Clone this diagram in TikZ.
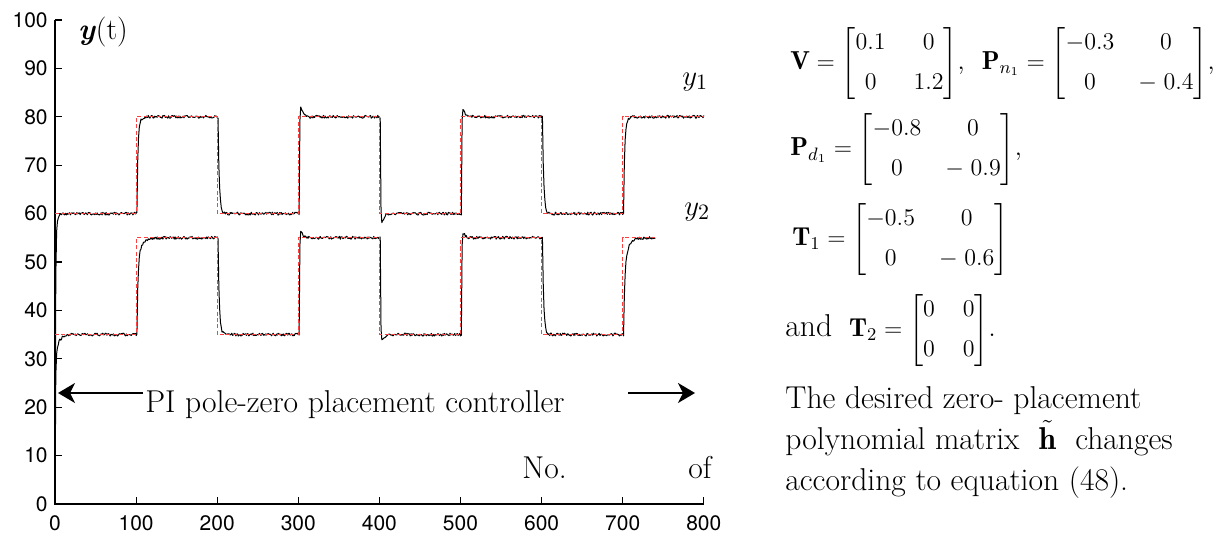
\documentclass[tikz,border=0pt]{standalone}
\usepackage{amsmath}
\usepackage{fontspec}
\newfontfamily\axisfont{TeX Gyre Heros}
\usetikzlibrary{arrows.meta}

% 2x2 matrix with its own column gap
\newcommand{\tmat}[5][7pt]{{\setlength{\arraycolsep}{#1}\begin{bmatrix}#2 & #3\\[5pt] #4 & #5\end{bmatrix}}}

\tikzset{
  axisline/.style={line width=0.6pt, black},
  ticklbl/.style={font=\axisfont\fontsize{10.5}{12}\selectfont, inner sep=0pt},
  refline/.style={red!75, line width=0.45pt, dash pattern=on 2pt off 1.2pt},
  respline/.style={black, line width=0.5pt, line join=round},
  bigarr/.style={-{Stealth[length=8.5pt, width=10pt, inset=2.5pt]}, line width=0.7pt},
  txt/.style={font=\fontsize{15.8}{20.5}\selectfont, inner sep=0pt},
  eq/.style={font=\fontsize{13}{15}\selectfont, inner sep=0pt, anchor=west},
  declare function={dk(\s,\m)=exp(-min(max(\s,0)/\m,12));
                    bump(\s)=max(\s,0)/1.5*exp(1-min(max(\s,0)/1.5,12));}
}

\begin{document}
\begin{tikzpicture}[x=0.5pt, y=0.5pt]
  \useasboundingbox (0,0) rectangle (1219,535);
  % --- data axes: origin at (55,31), 0.811 px per sample, 4.84 px per unit ---
  \begin{scope}[xshift=27.5pt, yshift=15.5pt, x=0.4055pt, y=2.42pt]
    \draw[axisline] (0,100) -- (0,0) -- (800,0);
    \foreach \v in {0,10,...,100} {
      \draw[axisline] (0,\v) -- (8.6,\v);
      \node[ticklbl, anchor=east] (yt\v) at (-8.6,\v) {\v};
    }
    \foreach \v in {0,100,...,800} {
      \draw[axisline] (\v,0) -- (\v,1.45);
      \node[ticklbl, anchor=north] (xt\v) at (\v,-2.3) {\v};
    }
    \pgfmathsetseed{11}
    % outputs: start/from/to/fast tc/slow tc/fast share/peak/delay/end/samples
    \draw[respline] (0,0) foreach \ta/\ya/\yb/\ca/\cb/\w/\pk/\dl/\tb/\ns in {
        0/0/60/0.6/3/0.95/0/0/100/101, 100/60/80/1.2/3/0.9/0/1/200/101,
        200/80/60/1.5/3/1/0/1/300/101, 300/60/80/0.5/3/1/2.3/1/400/101,
        400/80/60/0.5/3/1/-2.2/1/500/101, 500/60/80/0.5/3/1/2.0/1/600/101,
        600/80/60/1.5/3/1/0/1/700/101, 700/60/80/1.2/3/0.85/0/1/800/101}
      { -- plot[domain=\ta:\tb, samples=\ns] (\x, {\ya+(\yb-\ya)*(1-\w*dk(\x-\ta-\dl,\ca)-(1-\w)*dk(\x-\ta-\dl,\cb))+(\pk)*bump(\x-\ta-\dl)+0.3*rand}) };
    \draw[respline] (0,0) foreach \ta/\ya/\yb/\ca/\cb/\w/\pk/\dl/\tb/\ns in {
        0/0/35/0.5/4/0.85/0/0/100/101, 100/35/55/1.2/5/0.75/0/1/200/101,
        200/55/35/1.5/3/1/0/1/300/101, 300/35/55/0.5/3/1/1.5/1/400/101,
        400/55/35/0.5/3/1/-1.6/1/500/101, 500/35/55/0.5/3/1/1.4/1/600/101,
        600/55/35/1.5/3/1/0/1/700/101, 700/35/55/1.5/5/0.7/0/1/740/41}
      { -- plot[domain=\ta:\tb, samples=\ns] (\x, {\ya+(\yb-\ya)*(1-\w*dk(\x-\ta-\dl,\ca)-(1-\w)*dk(\x-\ta-\dl,\cb))+(\pk)*bump(\x-\ta-\dl)+0.3*rand}) };
    % set points
    \draw[refline] (0,60) -| (100,80) -| (200,60) -| (300,80) -| (400,60) -| (500,80) -| (600,60) -| (700,80) -- (800,80);
    \draw[refline] (0,35) -| (100,55) -| (200,35) -| (300,55) -| (400,35) -| (500,55) -| (600,35) -| (700,55) -- (740,55);
  \end{scope}
  % labels inside the plot
  \node[font=\fontsize{15}{18}\selectfont, inner sep=0pt] (ylbl) at (103,503) {\textbf{\textit{y}}(t)};
  \node[font=\fontsize{15}{18}\selectfont, inner sep=0pt, anchor=west] (yone) at (682,453) {$y_1$};
  \node[font=\fontsize{15}{18}\selectfont, inner sep=0pt, anchor=west] (ytwo) at (684,323) {$y_2$};
  \node[txt, anchor=base west] (ctl) at (145,122) {PI pole-zero placement controller};
  \node[txt, anchor=base west] (no) at (522,57) {No.};
  \node[txt, anchor=base west] (of) at (688,57) {of};
  \coordinate (arrLs) at (143,142);
  \coordinate (arrLe) at (58,142);
  \coordinate (arrRs) at (628,142);
  \coordinate (arrRe) at (695,142);
  \draw[bigarr] (arrLs) -- (arrLe);
  \draw[bigarr] (arrRs) -- (arrRe);
  % equations on the right
  \node[eq] (eqV) at (790,471) {$\mathbf{V} = \tmat{0.1}{0}{0}{1.2}$,\ \ $\mathbf{P}_{n_1} = \tmat[6pt]{-0.3}{0}{0}{-\;0.4}$,};
  \node[eq] (eqPd) at (790,385) {$\mathbf{P}_{d_1} = \tmat[6pt]{-0.8}{0}{0}{-\;0.9}$,};
  \node[eq] (eqT) at (792,295) {$\mathbf{T}_1 = \tmat[6pt]{-0.5}{0}{0}{-\;0.6}$};
  \node[eq] (eqTt) at (785,204) {{\fontsize{15.8}{15}\selectfont and}\ \ $\mathbf{T}_2 = \tmat{0}{0}{0}{0}$.};
  \node[txt, anchor=north west, align=left] (note) at (785,149) {The desired zero- placement\\ polynomial matrix\ \ $\tilde{\mathbf{h}}$\ \ changes\\ according to equation (48).};
\end{tikzpicture}
\end{document}
